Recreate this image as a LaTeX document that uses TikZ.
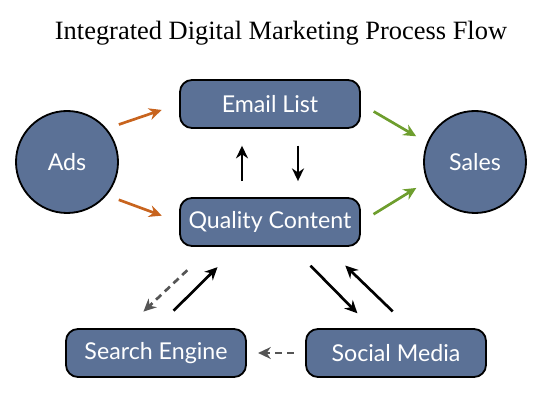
\documentclass[tikz,border=0pt]{standalone}
\usepackage{fontspec}
\setmainfont{Lato}
\newfontfamily\titlefont{Liberation Serif}
\usepackage{xcolor}
\usepackage{tikz}
\usetikzlibrary{arrows.meta, positioning, calc}

\definecolor{slate}{HTML}{5B7196}
\definecolor{adorange}{HTML}{C8641E}
\definecolor{salegreen}{HTML}{6E9E2E}
\definecolor{dashgray}{HTML}{555555}

\begin{document}
\begin{tikzpicture}[
    box/.style={rectangle, draw=black, fill=slate, line width=1.3pt, rounded corners=0.3cm, minimum width=4.5cm, minimum height=1.2cm, text=white, font=\fontsize{16.5}{18}\selectfont},
    hub/.style={circle, draw=black, fill=slate, line width=1.3pt, minimum size=2.55cm, text=white, font=\fontsize{16.5}{18}\selectfont},
    flow/.style={-{Stealth[length=9pt, width=8.5pt]}, line width=1.9pt},
    weak/.style={flow, dashgray, dash pattern=on 5pt off 3.5pt}
]
\useasboundingbox (0, 0) rectangle (13.725, 9.925);

% Title
\node[font=\titlefont\fontsize{18.8}{20}\selectfont] (title) at (7.025, 9.1) {Integrated Digital Marketing Process Flow};

% Nodes
\node[hub] (ads) at (1.675, 5.875) {Ads};
\node[hub] (sales) at (11.875, 5.875) {Sales};
\node[box] (email) at (6.75, 7.325) {Email List};
\node[box] (content) at (6.75, 4.375) {Quality Content};
\node[box] (search) at (3.9, 1.1) {Search Engine};
\node[box] (social) at (9.9, 1.1) {Social Media};

% Ads and Sales
\draw[flow, adorange, shorten <=0.32cm, shorten >=0.46cm] (ads.40) -- (email.west);
\draw[flow, adorange, shorten <=0.32cm, shorten >=0.46cm] (ads.-40) -- (content.west);
\draw[flow, salegreen, shorten <=0.37cm, shorten >=0.31cm] (email.east) -- (sales.158);
\draw[flow, salegreen, shorten <=0.37cm, shorten >=0.31cm] (content.east) -- (sales.-158);

% Email and content
\draw[flow, shorten <=0.4cm, shorten >=0.42cm] ([xshift=-0.7cm]content.north) -- ([xshift=-0.7cm]email.south);
\draw[flow, shorten <=0.42cm, shorten >=0.4cm] ([xshift=0.7cm]email.south) -- ([xshift=0.7cm]content.north);

% Search and social
\draw[weak, shorten <=0.85cm, shorten >=0.6cm] ([xshift=-1.45cm]content.south) -- ([xshift=-0.75cm]search.north);
\draw[flow, shorten <=0.62cm, shorten >=0.72cm] (search.north) -- ([xshift=-0.8cm]content.south);
\draw[flow, shorten <=0.66cm, shorten >=0.52cm] ([xshift=0.55cm]content.south) -- ([xshift=-0.6cm]social.north);
\draw[flow, shorten <=0.6cm, shorten >=0.67cm] ([xshift=0.35cm]social.north) -- ([xshift=1.4cm]content.south);
\draw[weak, shorten <=0.28cm, shorten >=0.28cm] (social.west) -- (search.east);

\end{tikzpicture}
\end{document}
